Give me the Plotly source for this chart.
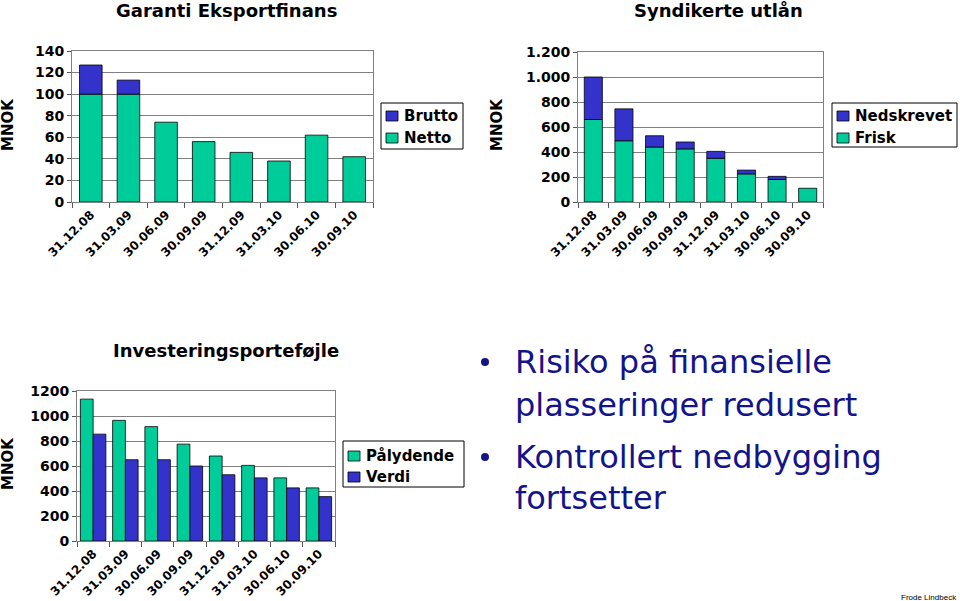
import plotly.graph_objects as go

W, H = 960, 601

dates = ["31.12.08", "31.03.09", "30.06.09", "30.09.09", "31.12.09", "31.03.10", "30.06.10", "30.09.10"]

# Garanti Eksportfinans (MNOK)
netto = [100, 100, 74, 56, 46, 38, 62, 42]
brutto_extra = [27, 13, None, None, None, None, None, None]

# Syndikerte utlån (MNOK)
frisk = [660, 490, 440, 425, 350, 225, 180, 110]
nedskrevet = [340, 255, 90, 55, 55, 30, 25, None]

# Investeringsportefølje (MNOK)
palydende = [1135, 965, 915, 775, 680, 605, 505, 425]
verdi = [855, 650, 650, 600, 530, 505, 425, 355]

y1_ticks = [0, 20, 40, 60, 80, 100, 120, 140]
y2_ticks = [0, 200, 400, 600, 800, 1000, 1200]
y2_text = ["0", "200", "400", "600", "800", "1.000", "1.200"]
y3_ticks = [0, 200, 400, 600, 800, 1000, 1200]
y3_text = ["0", "200", "400", "600", "800", "1000", "1200"]

GREEN = "#00CC99"
BLUE = "#3333CC"
NAVY = "#14148a"
FONT = "DejaVu Sans"
outline = dict(color="#000000", width=0.8)


def px(x):
    return x / W


def py(y):
    return 1 - y / H


def base_of(bottom, top):
    return [b if t is not None else None for b, t in zip(bottom, top)]


fig = go.Figure()

# Chart 1
fig.add_trace(go.Bar(x=dates, y=netto, name="Netto", marker=dict(color=GREEN, line=outline),
                     width=0.6, xaxis="x", yaxis="y", showlegend=False))
fig.add_trace(go.Bar(x=dates, y=brutto_extra, base=base_of(netto, brutto_extra), name="Brutto",
                     marker=dict(color=BLUE, line=outline), width=0.6, xaxis="x", yaxis="y", showlegend=False))

# Chart 2
fig.add_trace(go.Bar(x=dates, y=frisk, name="Frisk", marker=dict(color=GREEN, line=outline),
                     width=0.59, xaxis="x2", yaxis="y2", showlegend=False))
fig.add_trace(go.Bar(x=dates, y=nedskrevet, base=base_of(frisk, nedskrevet), name="Nedskrevet",
                     marker=dict(color=BLUE, line=outline), width=0.59, xaxis="x2", yaxis="y2", showlegend=False))

# Chart 3
fig.add_trace(go.Bar(x=dates, y=palydende, name="Pålydende", marker=dict(color=GREEN, line=outline),
                     width=0.395, offset=-0.395, xaxis="x3", yaxis="y3", showlegend=False))
fig.add_trace(go.Bar(x=dates, y=verdi, name="Verdi", marker=dict(color=BLUE, line=outline),
                     width=0.395, offset=0, xaxis="x3", yaxis="y3", showlegend=False))

tickfont_y = dict(family=FONT, size=14, color="#000000", weight="bold")
tickfont_x = dict(family=FONT, size=12, color="#000000", weight="bold")


def xaxis(domain, anchor):
    return dict(domain=domain, anchor=anchor, type="category", tickangle=-45, tickfont=tickfont_x,
                tickson="boundaries", ticks="outside", ticklen=5, tickcolor="#555555",
                showline=True, linecolor="#808080", linewidth=1, mirror=True, showgrid=False,
                automargin=False, fixedrange=True)


def yaxis(domain, anchor, rng, tv, tt):
    return dict(domain=domain, anchor=anchor, range=rng, tickvals=tv, ticktext=tt, tickfont=tickfont_y,
                ticks="outside", ticklen=4, tickcolor="#555555",
                showline=True, linecolor="#808080", linewidth=1, mirror=True,
                showgrid=True, gridcolor="#808080", gridwidth=1, zeroline=False,
                automargin=False, fixedrange=True)


fig.update_layout(
    width=W, height=H,
    margin=dict(l=0, r=0, t=0, b=0, autoexpand=False),
    paper_bgcolor="#ffffff", plot_bgcolor="#ffffff",
    barmode="overlay",
    showlegend=False,
    font=dict(family=FONT, color="#000000"),
    xaxis=xaxis([px(72), px(373)], "y"),
    yaxis=yaxis([py(202), py(51)], "x", [0, 140], y1_ticks, [str(v) for v in y1_ticks]),
    xaxis2=xaxis([px(578), px(823)], "y2"),
    yaxis2=yaxis([py(202), py(52)], "x2", [0, 1200], y2_ticks, y2_text),
    xaxis3=xaxis([px(77), px(335)], "y3"),
    yaxis3=yaxis([py(541), py(391)], "x3", [0, 1200], y3_ticks, y3_text),
)


def ann(text, x, y, size, color="#000000", bold=True, xanchor="center", angle=0, family=FONT):
    fig.add_annotation(text=text, x=px(x), y=py(y), xref="paper", yref="paper", showarrow=False,
                       xanchor=xanchor, yanchor="middle", textangle=angle,
                       font=dict(family=family, size=size, color=color, weight="bold" if bold else "normal"))


def rect(x0, y0, x1, y1, fill, line_color="#000000", lw=1):
    fig.add_shape(type="rect", xref="paper", yref="paper", x0=px(x0), x1=px(x1), y0=py(y1), y1=py(y0),
                  fillcolor=fill, line=dict(color=line_color, width=lw), layer="above")


# Legend boxes (entries in the same order as in the reference)
legends = [
    # (box x0, y0, x1, y1, [(label, color, center_y)])
    (381, 103, 463, 149, [("Brutto", BLUE, 116), ("Netto", GREEN, 138)]),
    (832, 103, 957, 147, [("Nedskrevet", BLUE, 116), ("Frisk", GREEN, 138)]),
    (343, 441, 464, 487, [("Pålydende", GREEN, 456), ("Verdi", BLUE, 477)]),
]
for bx0, by0, bx1, by1, items in legends:
    rect(bx0, by0, bx1, by1, "#ffffff", lw=1)
    for label, col, cy in items:
        rect(bx0 + 5, cy - 5, bx0 + 17, cy + 5, col, lw=0.8)
        ann(label, bx0 + 21, cy, 15, xanchor="left")

ann("Garanti Eksportfinans", 226, 11, 18)
ann("Syndikerte utlån", 718, 11, 18)
ann("Investeringsporteføjle", 226, 350, 18)
ann("MNOK", 8, 125, 15, angle=-90)
ann("MNOK", 497, 125, 15, angle=-90)
ann("MNOK", 8, 464, 15, angle=-90)

# Bullet text
bullets = [(485, 362), (485, 457)]
text_lines = [("Risiko på finansielle", 362), ("plasseringer redusert", 405),
              ("Kontrollert nedbygging", 457), ("fortsetter", 498)]
for x, y in bullets:
    fig.add_shape(type="circle", xref="paper", yref="paper", x0=px(x - 4), x1=px(x + 4),
                  y0=py(y + 4), y1=py(y - 4), fillcolor=NAVY, line=dict(width=0))
for t, y in text_lines:
    ann(t, 513, y, 32, color=NAVY, bold=False, xanchor="left")

ann("Frode Lindbeck", 929, 597, 8, bold=False, family="Liberation Sans")

fig.write_html("out.html")
